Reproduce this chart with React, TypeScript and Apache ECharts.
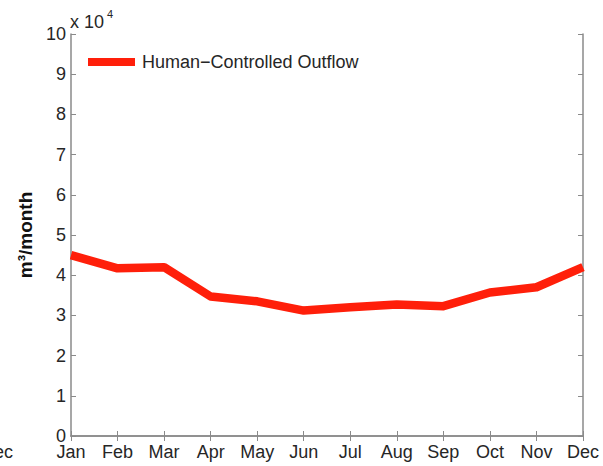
import React, { useEffect, useRef } from "react";
import * as echarts from "echarts";

const months = ["Jan", "Feb", "Mar", "Apr", "May", "Jun", "Jul", "Aug", "Sep", "Oct", "Nov", "Dec"];
const outflow = [45000, 41700, 42000, 34700, 33500, 31200, 32000, 32700, 32300, 35700, 37000, 42000];
const seriesName = "Human\u2212Controlled Outflow";
const yScale = 10000;

const FONT = "'Liberation Sans', Arial, Helvetica, sans-serif";
const AXIS = "#8a8a8a";
const TEXT = "#262626";

export default function App() {
  const ref = useRef<HTMLDivElement>(null);
  useEffect(() => {
    if (!ref.current) return;
    const chart = echarts.init(ref.current, null, { renderer: "svg" });
    const tickStyle = { show: true, inside: true, length: 5, lineStyle: { color: AXIS, width: 1 } };
    chart.setOption({
      animation: false,
      backgroundColor: "#ffffff",
      textStyle: { fontFamily: FONT },
      grid: { left: 71, right: 20, top: 34, bottom: 30, containLabel: false },
      legend: {
        show: true,
        left: 88,
        top: 53,
        padding: 0,
        icon: "rect",
        itemWidth: 47,
        itemHeight: 8,
        itemGap: 6,
        textStyle: { fontSize: 18, color: TEXT, fontFamily: FONT, padding: [0, 0, 0, 2] },
        data: [seriesName],
      },
      xAxis: [
        {
          type: "category",
          data: months,
          boundaryGap: false,
          axisLine: { show: true, lineStyle: { color: AXIS, width: 1.5 } },
          axisTick: { ...tickStyle, alignWithLabel: true },
          axisLabel: { color: TEXT, fontSize: 18, fontFamily: FONT, margin: 7, interval: 0 },
          splitLine: { show: false },
        },
        {
          type: "category",
          data: months,
          boundaryGap: false,
          position: "top",
          axisLine: { show: true, lineStyle: { color: AXIS, width: 1.5 } },
          axisTick: { ...tickStyle },
          axisLabel: { show: false },
          splitLine: { show: false },
        },
      ],
      yAxis: [
        {
          type: "value",
          min: 0,
          max: 100000,
          interval: 10000,
          name: "m\u00b3/month",
          nameLocation: "middle",
          nameGap: 35,
          nameRotate: 90,
          nameTextStyle: { color: "#111", fontSize: 19, fontWeight: "bold", fontFamily: FONT },
          axisLine: { show: true, lineStyle: { color: AXIS, width: 1.5 } },
          axisTick: { ...tickStyle },
          axisLabel: {
            color: TEXT,
            fontSize: 18,
            fontFamily: FONT,
            margin: 5,
            formatter: (v: number) => String(Math.round(v / yScale)),
          },
          splitLine: { show: false },
        },
        {
          type: "value",
          min: 0,
          max: 100000,
          interval: 10000,
          position: "right",
          axisLine: { show: true, lineStyle: { color: AXIS, width: 1.5 } },
          axisTick: { ...tickStyle },
          axisLabel: { show: false },
          splitLine: { show: false },
        },
      ],
      graphic: [
        {
          type: "text",
          left: 70,
          top: 13,
          style: { text: "x 10", fontSize: 18, fill: TEXT, fontFamily: FONT },
        },
        {
          type: "text",
          left: 107,
          top: 8,
          style: { text: "4", fontSize: 11, fill: TEXT, fontFamily: FONT },
        },
        {
          type: "text",
          x: 13,
          y: 443,
          style: { text: "Dec", fontSize: 18, fill: TEXT, fontFamily: FONT, textAlign: "right", textVerticalAlign: "top" },
        },
      ],
      series: [
        {
          name: seriesName,
          type: "line",
          data: outflow,
          xAxisIndex: 0,
          yAxisIndex: 0,
          showSymbol: false,
          symbol: "none",
          smooth: false,
          color: "#ff1f0a",
          lineStyle: { color: "#ff1f0a", width: 8.5, join: "round" },
          itemStyle: { color: "#ff1f0a" },
        },
      ],
    });
    return () => chart.dispose();
  }, []);
  return (
    <div
      ref={ref}
      style={{ position: "fixed", left: 0, top: 0, width: 603, height: 466, background: "#fff" }}
    />
  );
}
